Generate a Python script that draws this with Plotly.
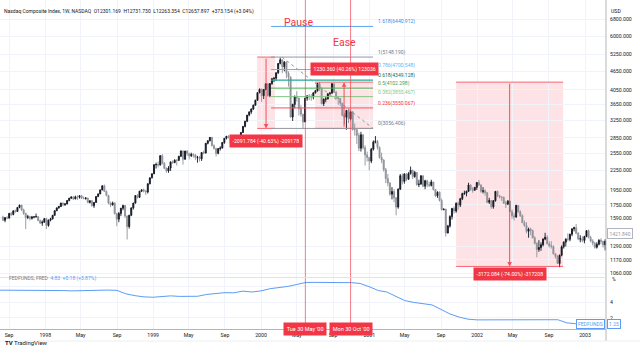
import math
import pandas as pd
import plotly.graph_objects as go

# ---------------- data ----------------
week_start = "1997-08-11"
first_open = 1600
closes = [
    1562, 1592, 1587, 1642, 1629, 1673, 1665, 1715, 1745, 1685, 1642, 1594, 1603, 1584, 1600, 1601,
    1604, 1560, 1530, 1540, 1581,
    1503, 1563, 1578, 1619, 1675, 1710, 1728, 1771, 1749, 1760, 1804, 1835, 1852, 1827, 1853, 1848,
    1868, 1835, 1832, 1837, 1779, 1800, 1738, 1780, 1858, 1894, 1950, 2009, 1930, 1873, 1770, 1747,
    1773, 1639, 1575, 1640, 1705, 1740, 1612, 1492, 1620, 1710, 1771, 1871, 1846, 1932, 1950, 1936,
    1920, 2040, 2130, 2193,
    2345, 2348, 2339, 2505, 2367, 2283, 2239, 2288, 2393, 2381, 2421, 2420, 2493, 2593, 2441, 2590,
    2543, 2503, 2527, 2520, 2471, 2478, 2447, 2563, 2553, 2741, 2793, 2863, 2693, 2638, 2547, 2637,
    2648, 2758, 2843, 2887, 2870, 2740, 2736, 2886, 2731, 2816, 2967, 3102, 3221, 3369, 3448, 3520,
    3620, 3754, 3970, 4069,
    3882, 4064, 4235, 3887, 4244, 4395, 4411, 4590, 4914, 5048, 4798, 4964, 4573, 4446, 3321, 3643,
    3860, 3817, 3529, 3390, 3205, 3813, 3874, 3860, 3845, 3966, 4023, 4246, 4095, 3663, 3787, 3789,
    3930, 3954, 4234, 3978, 3835, 3803, 3673, 3362, 3317, 3483, 3278, 3451, 3028, 3028, 2904, 2645,
    2917, 2654, 2517, 2471,
    2407, 2626, 2770, 2781, 2660, 2470, 2425, 2262, 2118, 2052, 1890, 1928, 1840, 1720, 1961, 2163,
    2075, 2192, 2107, 2198, 2251, 2149, 2215, 2028, 2034, 2161, 2004, 2084, 2029, 2015, 2066, 1956,
    1867, 1917, 1805, 1687, 1695, 1423, 1499, 1605, 1703, 1671, 1768, 1745, 1828, 1898, 1903, 1931,
    2021, 1953, 1945, 1987, 2059,
    2022, 1930, 1937, 1911, 1782, 1805, 1724, 1802, 1929, 1868, 1852, 1845, 1770, 1757, 1796, 1663,
    1613, 1600, 1741, 1661, 1615, 1535, 1504, 1441, 1463, 1448, 1373, 1319, 1262, 1280, 1306, 1361,
    1380, 1315, 1295, 1291, 1221, 1199, 1139, 1210, 1287, 1331, 1360, 1359, 1411, 1468, 1479, 1422,
    1362, 1364, 1348, 1387,
    1448, 1376, 1343, 1321, 1282, 1310, 1349, 1338, 1305, 1340,
]
highs = [
    1615, 1600, 1610, 1648, 1660, 1680, 1690, 1720, 1750, 1740, 1700, 1650, 1625, 1615, 1612, 1610,
    1640, 1610, 1570, 1560, 1585,
    1590, 1570, 1590, 1625, 1680, 1715, 1735, 1775, 1780, 1770, 1808, 1840, 1860, 1860, 1870, 1875,
    1875, 1880, 1860, 1850, 1840, 1810, 1810, 1785, 1862, 1898, 1955, 2015, 2028, 1940, 1880, 1790,
    1790, 1780, 1650, 1660, 1710, 1750, 1745, 1615, 1625, 1715, 1775, 1875, 1890, 1935, 1960, 1970,
    1945, 2045, 2135, 2200,
    2350, 2380, 2400, 2510, 2533, 2390, 2300, 2320, 2400, 2420, 2440, 2440, 2500, 2600, 2600, 2595,
    2610, 2560, 2560, 2550, 2530, 2500, 2500, 2570, 2600, 2745, 2800, 2864, 2860, 2720, 2650, 2645,
    2680, 2765, 2850, 2890, 2910, 2880, 2790, 2890, 2890, 2830, 2970, 3110, 3230, 3370, 3460, 3540,
    3640, 3770, 3975, 4090,
    4090, 4070, 4240, 4240, 4250, 4420, 4450, 4600, 4920, 5132, 5060, 5000, 4980, 4640, 4470, 3660,
    3890, 4010, 3820, 3620, 3400, 3820, 3900, 3930, 3930, 3980, 4050, 4260, 4289, 4110, 3800, 3850,
    3960, 3990, 4260, 4240, 4020, 3850, 3810, 3690, 3420, 3500, 3540, 3480, 3460, 3170, 3040, 2960,
    2980, 2930, 2700, 2580,
    2480, 2650, 2800, 2890, 2810, 2680, 2560, 2440, 2290, 2190, 2060, 1990, 1960, 1850, 1970, 2190,
    2200, 2200, 2200, 2220, 2313, 2260, 2240, 2220, 2100, 2170, 2170, 2100, 2100, 2070, 2100, 2070,
    1960, 1930, 1930, 1830, 1700, 1695, 1510, 1620, 1710, 1730, 1780, 1790, 1840, 1910, 1940, 1940,
    2055, 2030, 1990, 1990, 2065,
    2098, 2030, 1990, 1960, 1920, 1840, 1810, 1810, 1935, 1940, 1880, 1860, 1860, 1800, 1810, 1800,
    1690, 1650, 1750, 1745, 1680, 1630, 1560, 1540, 1480, 1480, 1460, 1390, 1330, 1350, 1330, 1370,
    1425, 1400, 1340, 1340, 1300, 1230, 1210, 1215, 1300, 1340, 1370, 1420, 1415, 1470, 1490, 1521,
    1430, 1400, 1390, 1395,
    1450, 1460, 1395, 1360, 1335, 1330, 1360, 1370, 1345, 1360,
]
lows = [
    1555, 1540, 1575, 1580, 1610, 1620, 1650, 1660, 1705, 1670, 1625, 1465, 1575, 1560, 1570, 1585,
    1595, 1550, 1520, 1500, 1535,
    1465, 1490, 1550, 1570, 1615, 1670, 1700, 1720, 1730, 1735, 1755, 1795, 1825, 1810, 1820, 1810,
    1830, 1825, 1820, 1815, 1770, 1765, 1725, 1710, 1775, 1850, 1890, 1945, 1920, 1860, 1755, 1720,
    1740, 1630, 1495, 1540, 1610, 1680, 1590, 1357, 1470, 1610, 1690, 1765, 1830, 1840, 1920, 1915,
    1880, 1900, 2030, 2120,
    2190, 2280, 2300, 2330, 2350, 2270, 2210, 2210, 2240, 2360, 2370, 2330, 2410, 2480, 2345, 2430,
    2500, 2440, 2480, 2470, 2430, 2380, 2400, 2410, 2530, 2545, 2720, 2780, 2680, 2620, 2490, 2530,
    2600, 2640, 2730, 2820, 2840, 2720, 2700, 2730, 2700, 2690, 2800, 2960, 3080, 3200, 3340, 3400,
    3500, 3610, 3740, 3950,
    3711, 3790, 4040, 3850, 3840, 4200, 4290, 4330, 4550, 4880, 4580, 4640, 4410, 4150, 3310, 3227,
    3540, 3720, 3360, 3330, 3042, 3200, 3740, 3760, 3740, 3780, 3940, 4000, 4020, 3640, 3600, 3700,
    3780, 3890, 3950, 3960, 3780, 3630, 3600, 3340, 3150, 3026, 3180, 3240, 3010, 2900, 2730, 2590,
    2580, 2620, 2330, 2400,
    2250, 2370, 2600, 2740, 2620, 2450, 2370, 2230, 2050, 2000, 1870, 1820, 1780, 1619, 1700, 1950,
    2030, 2040, 2080, 2100, 2180, 2110, 2130, 2010, 1990, 2030, 1990, 1960, 1990, 1990, 2000, 1940,
    1850, 1840, 1790, 1680, 1680, 1387, 1420, 1480, 1570, 1640, 1650, 1690, 1720, 1810, 1880, 1860,
    1920, 1940, 1910, 1940, 1950,
    2010, 1910, 1900, 1870, 1770, 1760, 1700, 1700, 1790, 1850, 1830, 1800, 1760, 1710, 1750, 1660,
    1580, 1560, 1590, 1650, 1600, 1530, 1490, 1420, 1375, 1400, 1370, 1310, 1192, 1240, 1250, 1290,
    1350, 1310, 1280, 1270, 1220, 1180, 1135, 1108, 1200, 1270, 1290, 1340, 1340, 1390, 1440, 1410,
    1350, 1330, 1330, 1320,
    1380, 1370, 1330, 1300, 1270, 1270, 1300, 1310, 1280, 1253,
]

fed_start = "1997-08-01"
fed_rate = [
    5.54, 5.54, 5.50, 5.52, 5.50,
    5.56, 5.51, 5.49, 5.45, 5.49, 5.56, 5.54, 5.55, 5.51, 5.07, 4.83, 4.68,
    4.63, 4.76, 4.81, 4.74, 4.74, 4.76, 4.99, 5.07, 5.22, 5.20, 5.42, 5.30,
    5.45, 5.73, 5.85, 6.02, 6.27, 6.53, 6.54, 6.50, 6.52, 6.51, 6.51, 6.40,
    5.98, 5.49, 5.31, 4.80, 4.21, 3.97, 3.77, 3.65, 3.07, 2.49, 2.09, 1.82,
    1.73, 1.74, 1.73, 1.75, 1.75, 1.75, 1.73, 1.74, 1.75, 1.75, 1.34, 1.24,
    1.24, 1.26, 1.25,
]

x_tick_dates = ["1997-09-01", "1998-01-01", "1998-05-01", "1998-09-01", "1999-01-01", "1999-05-01",
                "1999-09-01", "2000-01-01", "2000-05-01", "2000-09-01", "2001-01-01", "2001-05-01",
                "2001-09-01", "2002-01-01", "2002-05-01", "2002-09-01", "2003-01-01"]
x_tick_text = ["Sep", "1998", "May", "Sep", "1999", "May", "Sep", "2000", "May", "Sep", "2001",
               "May", "Sep", "2002", "May", "Sep", "2003"]
price_ticks = [6800, 6000, 5250, 4650, 4050, 3650, 3250, 2850, 2550, 2250, 1950, 1750, 1590,
               1290, 1170, 1060]
fed_ticks = [2, 4, 6]
fed_tick_text = ["2", "4", ""]

fib_ratio = ["1.618", "1", "0.786", "0.618", "0.5", "0.382", "0.236", "0"]
fib_price = [6440.912, 5148.190, 4700.548, 4349.128, 4102.298, 3855.467, 3550.067, 3056.406]
fib_color = ["#5aa5f0", "#9598a1", "#64b5f6", "#22ab94", "#4caf50", "#81c784", "#f7525f", "#9598a1"]
fib_text_color = ["#2f8ef0", "#787b86", "#64b5f6", "#0b6e62", "#43a047", "#81c784", "#f23645", "#787b86"]
fib_x = ["2000-02-04", "2001-01-14"]
fib_trend_start = "2000-03-12"

range_x0 = ["1999-12-19", "2000-07-02", "2001-10-22"]
range_x1 = ["2000-02-17", "2001-01-14", "2002-10-19"]
range_from = [5148.190, 3056.406, 4286.766]
range_to = [3056.406, 4286.766, 1114.682]

event_dates = ["2000-05-30", "2000-10-30"]
event_names = ["Pause", "Ease"]
event_labels = ["Tue 30 May '00", "Mon 30 Oct '00"]

# ---------------- figure ----------------
W, H = 640, 356
PX_RIGHT = 606
X_RANGE = ["1997-08-01", "2003-03-13"]
Y_PRICE_TOP, Y_PRICE_BOT = 0, 277
Y_FED_TOP, Y_FED_BOT = 278, 329
FONT = "Roboto, Liberation Sans, sans-serif"
RED = "#f23645"
GRID = "#f0f3fa"

def py(px):
    return 1 - px / H

dates = pd.date_range(week_start, periods=len(closes), freq="7D")
opens = [first_open] + closes[:-1]
fed_dates = pd.date_range(fed_start, periods=len(fed_rate), freq="MS")

fig = go.Figure()
fig.add_trace(go.Candlestick(
    x=dates, open=opens, high=highs, low=lows, close=closes, xaxis="x2", yaxis="y",
    increasing=dict(line=dict(color="#131722", width=0.9), fillcolor="#131722"),
    decreasing=dict(line=dict(color="#8f9299", width=0.9), fillcolor="#8f9299"),
    whiskerwidth=0, showlegend=False, hoverinfo="skip"))
fig.add_trace(go.Scatter(
    x=fed_dates, y=fed_rate, xaxis="x", yaxis="y2", mode="lines",
    line=dict(color="#5b9cf6", width=1), showlegend=False, hoverinfo="skip"))

shapes = []
annotations = []

# price range tools
for x0, x1, a, b in zip(range_x0, range_x1, range_from, range_to):
    lo, hi = min(a, b), max(a, b)
    shapes.append(dict(type="rect", xref="x2", yref="y", x0=x0, x1=x1, y0=lo, y1=hi,
                       fillcolor="rgba(242,54,69,0.14)", line=dict(width=0), layer="below"))
    for v in (lo, hi):
        shapes.append(dict(type="line", xref="x2", yref="y", x0=x0, x1=x1, y0=v, y1=v,
                           line=dict(color="rgba(242,54,69,0.75)", width=1)))
    mid = pd.Timestamp(x0) + (pd.Timestamp(x1) - pd.Timestamp(x0)) / 2
    annotations.append(dict(xref="x2", yref="y", axref="x2", ayref="y",
                            x=mid, y=math.log10(b), ax=mid, ay=math.log10(a),
                            showarrow=True, arrowhead=2, arrowsize=0.9, arrowwidth=1,
                            arrowcolor="rgba(242,54,69,0.85)", text=""))
    change = b - a
    pct = change / a * 100
    label = f"{change:.3f} ({pct:.2f}%) {round(change * 100)}"
    down = change < 0
    gap = -6 if down else 6
    if lo < 1200:
        gap = -1
    annotations.append(dict(xref="x2", yref="y", x=mid, y=math.log10(b), text=label,
                            showarrow=False, yanchor="top" if down else "bottom", yshift=gap,
                            bgcolor=RED, borderpad=2.5,
                            font=dict(family=FONT, size=5.2, color="white")))

# fibonacci retracement
for r, p, c, tc in zip(fib_ratio, fib_price, fib_color, fib_text_color):
    shapes.append(dict(type="line", xref="x2", yref="y", x0=fib_x[0], x1=fib_x[1], y0=p, y1=p,
                       line=dict(color=c, width=1.4 if r == "0.618" else 1)))
    annotations.append(dict(xref="x2", yref="y", x=fib_x[1], y=math.log10(p),
                            text=f"{r}({p:.3f})", showarrow=False, xanchor="left",
                            yanchor="bottom", xshift=3, yshift=-1,
                            font=dict(family=FONT, size=5, color=tc)))
shapes.append(dict(type="line", xref="x2", yref="y", x0=fib_trend_start, x1=fib_x[1],
                   y0=fib_price[1], y1=fib_price[-1],
                   line=dict(color="#9598a1", width=1, dash="dot")))

# event lines
for d, name, lab, ty in zip(event_dates, event_names, event_labels, [14, 34]):
    shapes.append(dict(type="line", xref="x2", yref="paper", x0=d, x1=d, y0=py(Y_FED_BOT), y1=1,
                       line=dict(color="rgba(242,54,69,0.65)", width=1)))
    annotations.append(dict(xref="x2", yref="paper", x=d, y=py(ty), text=name, showarrow=False,
                            xshift=-7 if name == "Pause" else -6,
                            font=dict(family=FONT, size=10.5, color=RED)))
    annotations.append(dict(xref="x", yref="paper", x=d, y=py(335.5), text=lab, showarrow=False,
                            bgcolor=RED, borderpad=2.8,
                            font=dict(family=FONT, size=5.5, color="white")))

# frame lines
shapes.append(dict(type="line", xref="paper", yref="paper", x0=PX_RIGHT / W, x1=PX_RIGHT / W,
                   y0=py(341), y1=1, line=dict(color="#b2b5be", width=1)))
shapes.append(dict(type="line", xref="paper", yref="paper", x0=0, x1=1,
                   y0=py(341), y1=py(341), line=dict(color="#eceef2", width=1)))
shapes.append(dict(type="line", xref="paper", yref="paper", x0=0, x1=PX_RIGHT / W,
                   y0=py(277.5), y1=py(277.5), line=dict(color="#e0e3eb", width=1)))

# texts
annotations.append(dict(xref="paper", yref="paper", x=2 / W, y=py(5.5), xanchor="left",
                        text="Nasdaq Composite Index, 1W, NASDAQ  O12301.169  H12731.730  "
                             "L12263.354  C12657.897  +373.154 (+3.04%)",
                        showarrow=False, font=dict(family=FONT, size=5, color="#131722")))
annotations.append(dict(xref="paper", yref="paper", x=609 / W, y=py(6), xanchor="left",
                        text="USD", showarrow=False, font=dict(family=FONT, size=5.2, color="#131722")))
annotations.append(dict(xref="paper", yref="y", x=607 / W, y=math.log10(1421.84), xanchor="left",
                        text="1421.840", showarrow=False, bgcolor="white", bordercolor="#b2b5be",
                        borderwidth=1, borderpad=1.5, font=dict(family=FONT, size=5, color="#9598a1")))
annotations.append(dict(xref="paper", yref="paper", x=7 / W, y=py(284), xanchor="left",
                        text="<span style='color:#787b86'>FEDFUNDS, FRED</span>  "
                             "<span style='color:#5b9cf6'>4.83  +0.18 (+3.87%)</span>",
                        showarrow=False, font=dict(family=FONT, size=5, color="#787b86")))
annotations.append(dict(xref="paper", yref="paper", x=610 / W, y=py(283.5), xanchor="left",
                        text="%", showarrow=False, font=dict(family=FONT, size=5, color="#131722")))
annotations.append(dict(xref="paper", yref="y2", x=605 / W, y=fed_rate[-1], xanchor="right",
                        text="FEDFUNDS", showarrow=False, bgcolor="white", bordercolor="#5b9cf6",
                        borderwidth=1, borderpad=1, font=dict(family=FONT, size=5, color="#5b9cf6")))
annotations.append(dict(xref="paper", yref="y2", x=607 / W, y=fed_rate[-1], xanchor="left",
                        text=f"{fed_rate[-1]:.2f}", showarrow=False, bgcolor="white",
                        bordercolor="#5b9cf6", borderwidth=1, borderpad=1,
                        font=dict(family=FONT, size=5, color="#5b9cf6")))
annotations.append(dict(xref="paper", yref="paper", x=3 / W, y=py(348), xanchor="left",
                        text="<b>TV</b> TradingView", showarrow=False,
                        font=dict(family=FONT, size=6, color="#131722")))

axis_font = dict(family=FONT, size=5.2, color="#131722")
fig.update_layout(
    width=W, height=H, margin=dict(l=0, r=0, t=0, b=0),
    paper_bgcolor="white", plot_bgcolor="white", showlegend=False,
    xaxis=dict(domain=[0, PX_RIGHT / W], range=X_RANGE, anchor="y2", type="date",
               tickmode="array", tickvals=x_tick_dates, ticktext=x_tick_text, tickfont=axis_font,
               showgrid=True, gridcolor=GRID, showline=True, linecolor="#b2b5be", ticks="",
               zeroline=False, rangeslider=dict(visible=False), ticklabelstandoff=1,
               automargin=False),
    xaxis2=dict(domain=[0, PX_RIGHT / W], range=X_RANGE, matches="x", anchor="y", type="date",
                tickmode="array", tickvals=x_tick_dates, showticklabels=False,
                showgrid=True, gridcolor=GRID, showline=False, ticks="", zeroline=False,
                rangeslider=dict(visible=False), automargin=False),
    yaxis=dict(domain=[py(Y_PRICE_BOT), py(Y_PRICE_TOP)], type="log", range=[3.0136, 3.8928],
               side="right", anchor="x2", tickmode="array", tickvals=price_ticks,
               ticktext=[f"{v:.3f}" for v in price_ticks], tickfont=axis_font,
               showgrid=True, gridcolor=GRID, showline=False, ticks="", zeroline=False,
               ticklabelstandoff=3, automargin=False),
    yaxis2=dict(domain=[py(Y_FED_BOT), py(Y_FED_TOP)], range=[0.56, 7.1], side="right",
                anchor="x", tickmode="array", tickvals=fed_ticks, ticktext=fed_tick_text,
                tickfont=axis_font, showgrid=True, gridcolor=GRID, showline=False, ticks="",
                zeroline=False, ticklabelstandoff=3, automargin=False),
    shapes=shapes, annotations=annotations,
)

fig.write_html("out.html", config={"displayModeBar": False, "staticPlot": True},
               post_script="document.body.style.margin='0';document.body.style.overflow='hidden';")
